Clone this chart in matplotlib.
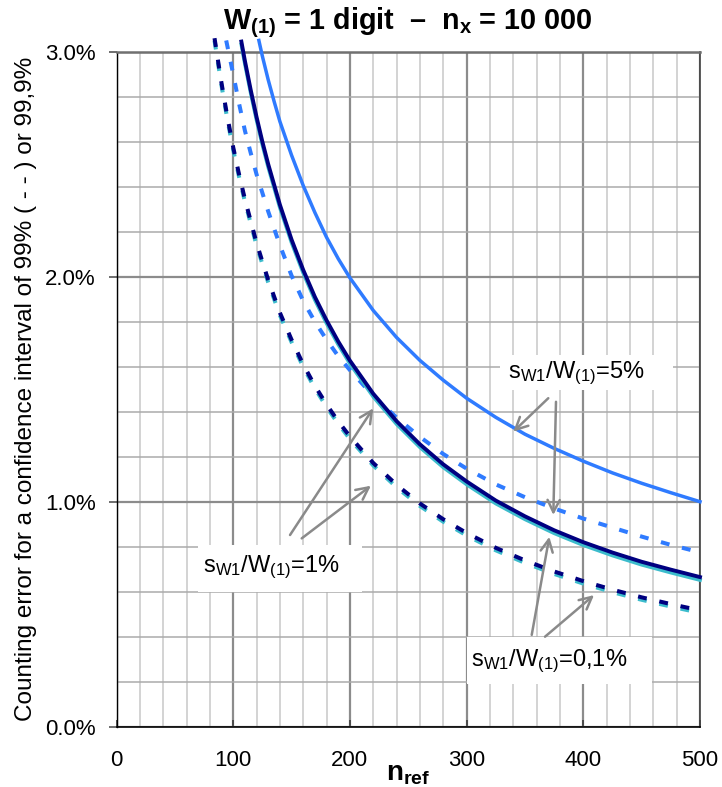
import numpy as np
import matplotlib.pyplot as plt
from matplotlib.patches import Rectangle

plt.rcParams['font.family'] = ['Liberation Sans', 'DejaVu Sans']
plt.rcParams['mathtext.fontset'] = 'custom'
plt.rcParams['mathtext.rm'] = 'Liberation Sans'
plt.rcParams['mathtext.bf'] = 'Liberation Sans:bold'
plt.rcParams['mathtext.it'] = 'Liberation Sans:italic'

# Values (n_ref, counting error in %)
# sW1/W(1) = 5 %
n_5_solid = [122, 125, 130, 135, 140, 150, 160, 170, 180, 190, 200, 220, 240, 260, 280,
             300, 325, 350, 375, 400, 425, 450, 475, 500]
err_5_solid = [3.05, 2.98, 2.875, 2.78, 2.69, 2.54, 2.405, 2.285, 2.175, 2.08, 1.995, 1.85, 1.73,
               1.628, 1.54, 1.46, 1.375, 1.30, 1.237, 1.18, 1.128, 1.082, 1.04, 1.0]
n_5_dash = [94, 97, 100, 105, 110, 115, 120, 130, 140, 150, 160, 170, 180, 190, 200, 220, 240,
            260, 280, 300, 325, 350, 375, 400, 425, 450, 475, 500]
err_5_dash = [3.05, 2.975, 2.9, 2.77, 2.65, 2.55, 2.455, 2.29, 2.14, 2.005, 1.892, 1.8, 1.72,
              1.647, 1.585, 1.47, 1.374, 1.288, 1.212, 1.147, 1.077, 1.02, 0.97, 0.925, 0.885,
              0.845, 0.808, 0.775]

# sW1/W(1) = 1 %
n_1_solid = [107, 110, 115, 120, 125, 130, 140, 150, 160, 170, 180, 190, 200, 220, 240, 260,
             280, 300, 325, 350, 375, 400, 425, 450, 475, 500]
err_1_solid = [3.045, 2.96, 2.83, 2.71, 2.6, 2.5, 2.32, 2.165, 2.03, 1.91, 1.806, 1.712, 1.627,
               1.48, 1.358, 1.255, 1.166, 1.09, 1.005, 0.935, 0.873, 0.82, 0.774, 0.733, 0.698,
               0.665]
n_1_dash = [84, 87, 90, 95, 100, 105, 110, 120, 130, 140, 150, 160, 170, 180, 190, 200, 220,
            240, 260, 280, 300, 325, 350, 375, 400, 425, 450, 475, 500]
err_1_dash = [3.06, 2.96, 2.86, 2.71, 2.575, 2.455, 2.345, 2.15, 1.985, 1.84, 1.72, 1.61, 1.515,
              1.432, 1.357, 1.29, 1.172, 1.075, 0.992, 0.922, 0.861, 0.795, 0.739, 0.69, 0.647,
              0.609, 0.575, 0.545, 0.517]

# sW1/W(1) = 0,1 %
n_01_solid = n_1_solid
err_01_solid = [3.032, 2.947, 2.817, 2.697, 2.587, 2.487, 2.307, 2.152, 2.017, 1.897, 1.793,
                1.699, 1.614, 1.467, 1.345, 1.242, 1.153, 1.077, 0.992, 0.922, 0.86, 0.807,
                0.761, 0.72, 0.685, 0.652]
n_01_dash = n_1_dash
err_01_dash = [3.049, 2.949, 2.849, 2.699, 2.564, 2.444, 2.334, 2.139, 1.974, 1.829, 1.709,
               1.599, 1.504, 1.421, 1.346, 1.279, 1.161, 1.064, 0.981, 0.911, 0.85, 0.784,
               0.728, 0.679, 0.636, 0.598, 0.564, 0.534, 0.506]

x_ticks = [0, 100, 200, 300, 400, 500]
x_ticklabels = ['0', '100', '200', '300', '400', '500']
y_ticks = [0, 1, 2, 3]
y_ticklabels = ['0.0%', '1.0%', '2.0%', '3.0%']

c_5 = '#2f7bff'
c_1 = '#000080'
c_01 = '#3cbccc'
dash = (0, (2.2, 3.2))

fig = plt.figure(figsize=(7.22, 7.87), dpi=100)
ax = fig.add_axes([116.5 / 722, 1 - 726.7 / 787, 583.5 / 722, 675 / 787])

ax.plot(n_5_solid, err_5_solid, color=c_5, lw=2.5, zorder=3, clip_on=False)
ax.plot(n_5_dash, err_5_dash, color=c_5, lw=2.9, ls=dash, zorder=3, clip_on=False)
ax.plot(n_01_solid, err_01_solid, color=c_01, lw=2.7, zorder=3, clip_on=False)
ax.plot(n_01_dash, err_01_dash, color=c_01, lw=2.9, ls=dash, zorder=3, clip_on=False)
ax.plot(n_1_solid, err_1_solid, color=c_1, lw=2.8, zorder=4, clip_on=False)
ax.plot(n_1_dash, err_1_dash, color=c_1, lw=2.9, ls=dash, zorder=4, clip_on=False)

ax.set_xlim(0, 500)
ax.set_ylim(0, 3)
ax.set_xticks(x_ticks)
ax.set_xticklabels(x_ticklabels)
ax.set_yticks(y_ticks)
ax.set_yticklabels(y_ticklabels)
ax.set_xticks(np.arange(0, 501, 20), minor=True)
ax.set_yticks(np.arange(0, 3.01, 0.2), minor=True)

ax.set_axisbelow(True)
ax.xaxis.grid(True, which='minor', color='#c8c8c8', lw=1.1)
ax.yaxis.grid(True, which='minor', color='#ababab', lw=1.1)
ax.xaxis.grid(True, which='major', color='#8c8c8c', lw=1.6)
ax.yaxis.grid(True, which='major', color='#8c8c8c', lw=1.6)

ax.tick_params(axis='both', which='minor', length=0)
ax.tick_params(axis='x', which='major', direction='in', length=5, width=1.2,
               color='#404040', labelsize=16, pad=17)
ax.tick_params(axis='y', which='major', direction='out', length=6, width=1.2,
               color='#555555', labelsize=16, pad=9)

ax.spines['left'].set(color='black', lw=1.0)
ax.spines['bottom'].set(color='black', lw=1.2)
ax.spines['top'].set(color='#707070', lw=1.8)
ax.spines['right'].set(color='#404040', lw=1.2)

ax.set_title(r'W$_{\mathbf{(1)}}$ = 1 digit  –  n$_{\mathbf{x}}$ = 10 000',
             fontsize=20.7, fontweight='bold', pad=16)
ax.set_xlabel(r'n$_{\mathbf{ref}}$', fontsize=20, fontweight='bold')
ax.xaxis.set_label_coords(0.5, -0.079)
ax.xaxis.label.set_va('baseline')
ax.set_ylabel('Counting error for a confidence interval of 99% ( - - ) or 99,9%', fontsize=17.5)
ax.yaxis.set_label_coords(-0.137, 0.5)

# white label boxes
for x0, x1, y0, y1 in [(328.6, 476.9, 1.496, 1.652), (69.8, 210.4, 0.599, 0.808),
                       (300.3, 458.9, 0.19, 0.399)]:
    ax.add_patch(Rectangle((x0, y0), x1 - x0, y1 - y0, facecolor='white',
                           edgecolor='none', zorder=2))

lbl = dict(fontsize=17, ha='center', va='center', zorder=6)
ax.text(393.7, 1.572, r's$_{\mathrm{W1}}$/W$_{\mathrm{(1)}}$=5%', **lbl)
ax.text(132.4, 0.71, r's$_{\mathrm{W1}}$/W$_{\mathrm{(1)}}$=1%', **lbl)
ax.text(371, 0.292, r's$_{\mathrm{W1}}$/W$_{\mathrm{(1)}}$=0,1%', **lbl)

arrow = dict(arrowstyle='->', color='#8a8a8a', lw=1.8, mutation_scale=22,
             shrinkA=0, shrinkB=0)
for tip, tail in [((340, 1.311), (370, 1.46)), ((374.3, 0.941), (376.6, 1.444)),
                  ((220, 1.415), (148.7, 0.852)), ((218, 1.071), (158.7, 0.837)),
                  ((370.9, 0.844), (355.8, 0.408)), ((409.2, 0.585), (367.2, 0.4))]:
    ax.annotate('', xy=tip, xytext=tail, arrowprops=arrow, zorder=7)

fig.savefig('out.png', dpi=100)
